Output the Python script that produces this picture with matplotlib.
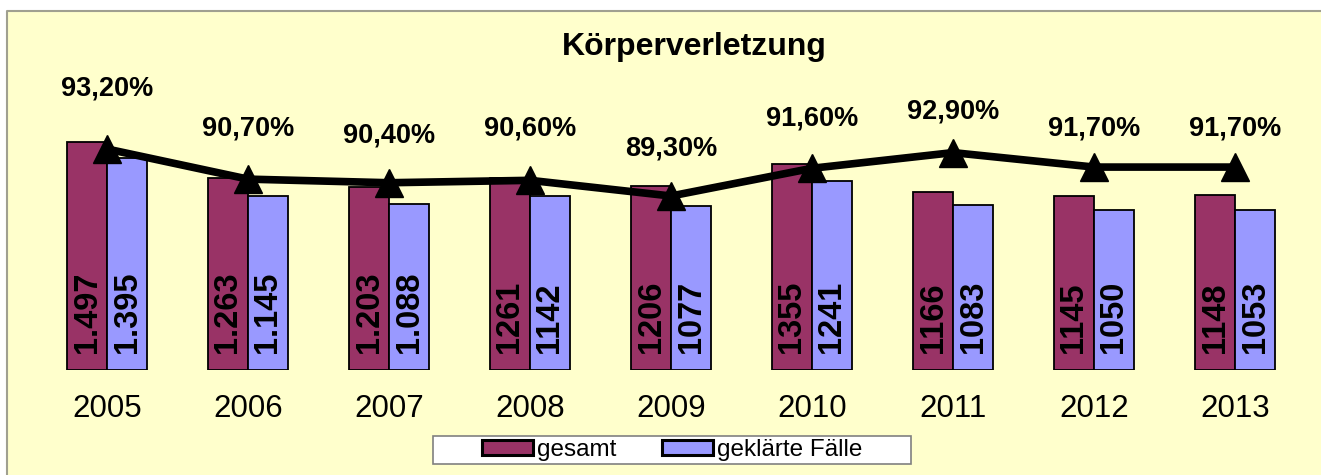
import matplotlib.pyplot as plt
import numpy as np
from matplotlib.patches import Rectangle
from matplotlib.lines import Line2D

plt.rcParams['font.family'] = ['Liberation Sans', 'DejaVu Sans']

years = ['2005', '2006', '2007', '2008', '2009', '2010', '2011', '2012', '2013']
gesamt = [1497, 1263, 1203, 1261, 1206, 1355, 1166, 1145, 1148]
geklaert = [1395, 1145, 1088, 1142, 1077, 1241, 1083, 1050, 1053]
gesamt_labels = ['1.497', '1.263', '1.203', '1261', '1206', '1355', '1166', '1145', '1148']
geklaert_labels = ['1.395', '1.145', '1.088', '1142', '1077', '1241', '1083', '1050', '1053']
quote = [93.2, 90.7, 90.4, 90.6, 89.3, 91.6, 92.9, 91.7, 91.7]
quote_labels = ['93,20%', '90,70%', '90,40%', '90,60%', '89,30%', '91,60%', '92,90%', '91,70%', '91,70%']

# label offsets above the points (pixels)
label_dy = [61, 51, 47, 52, 48, 50, 41, 39, 39]

W, H = 1321, 475
fig = plt.figure(figsize=(W / 100, H / 100), dpi=100)
fig.patch.set_facecolor('white')

# yellow chart area, grey border on left and top
bg = Rectangle((7 / W, 0), 1, 1 - 11 / H, transform=fig.transFigure,
               facecolor='#FFFFCC', edgecolor='none', zorder=0)
fig.add_artist(bg)
fig.add_artist(Line2D([7 / W, 7 / W, 1], [0, 1 - 11 / H, 1 - 11 / H], transform=fig.transFigure,
                      color='#A0A090', linewidth=1.5, zorder=0.5))

ax = fig.add_axes([0, 1 - 370 / H, 1, (370 - 11) / H])
ax.set_facecolor('none')
for s in ax.spines.values():
    s.set_visible(False)

x = np.arange(len(years))
w = 40 / 141
ax.set_xlim(-107 / 141, (W - 107) / 141)
ax.set_ylim(0, 359 / (228 / 1497))

ax.bar(x - w / 2, gesamt, w, color='#993366', edgecolor='black', linewidth=1.3, label='gesamt')
ax.bar(x + w / 2, geklaert, w, color='#9999FF', edgecolor='black', linewidth=1.3, label='geklärte Fälle')

for i in range(len(years)):
    ax.annotate(gesamt_labels[i], (x[i] - w / 2, 0), xytext=(0, 12), textcoords='offset points',
                rotation=90, ha='center', va='bottom', fontsize=23.5, fontweight='bold')
    ax.annotate(geklaert_labels[i], (x[i] + w / 2, 0), xytext=(0, 12), textcoords='offset points',
                rotation=90, ha='center', va='bottom', fontsize=23.5, fontweight='bold')

ax.set_xticks(x)
ax.set_xticklabels(years, fontsize=22.5)
ax.tick_params(axis='x', length=0, pad=17)
ax.set_yticks([])

ax2 = ax.twinx()
ax2.set_facecolor('none')
for s in ax2.spines.values():
    s.set_visible(False)
ax2.set_yticks([])
px_per = 47 / 3.9
ax2.set_ylim(93.2 - (370 - 149) / px_per, 93.2 + (149 - 11) / px_per)
ax2.plot(x, quote, color='black', linewidth=5.5, marker='^', markersize=20, zorder=5)

for i in range(len(years)):
    ax2.annotate(quote_labels[i], (x[i], quote[i]), xytext=(0, label_dy[i] * 0.72),
                 textcoords='offset points', ha='center', va='center',
                 fontsize=19.5, fontweight='bold')

fig.text(694 / W, 1 - 47 / H, 'Körperverletzung', ha='center', va='center',
         fontsize=23, fontweight='bold')

# legend box
lb = Rectangle((433 / W, 1 - 464 / H), (911 - 433) / W, 28 / H, transform=fig.transFigure,
               facecolor='white', edgecolor='#808080', linewidth=1.2, zorder=3)
fig.add_artist(lb)
leg = fig.legend(loc='center', bbox_to_anchor=(672 / W, 1 - 450 / H), ncol=2, frameon=False,
                 fontsize=17.5, handlelength=2.1, handleheight=0.55, handletextpad=0.15,
                 columnspacing=1.9, borderpad=0)
leg.set_zorder(4)
for p in leg.get_patches():
    p.set_linewidth(2.2)

fig.savefig('out.png', dpi=100)
